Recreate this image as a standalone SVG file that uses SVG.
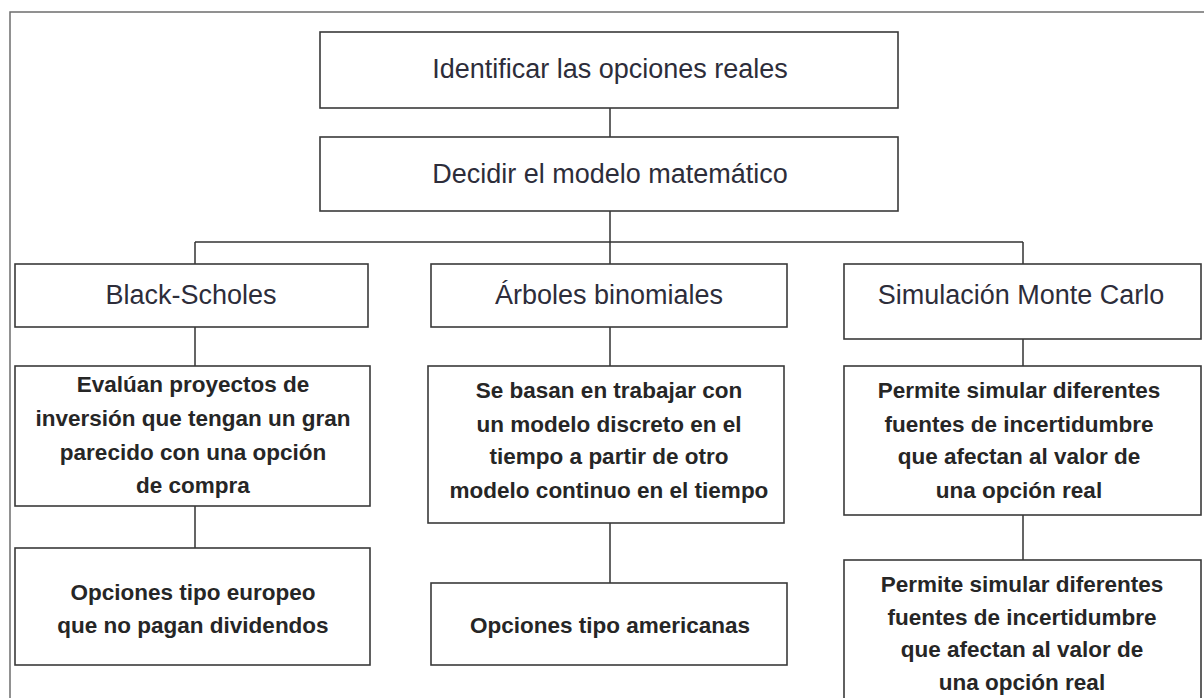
<svg xmlns="http://www.w3.org/2000/svg" width="1204" height="698" viewBox="0 0 1204 698">
<style>
.box{fill:#fff;stroke:#3a3a3a;stroke-width:1.6}
.frame{fill:none;stroke:#6e6e6e;stroke-width:1.5}
.con{stroke:#333;stroke-width:1.5;fill:none}
.h{font-family:"Liberation Sans",Arial,sans-serif;font-size:27px;fill:#2d2d3a;text-anchor:middle}
.b{font-family:"Liberation Sans",Arial,sans-serif;font-size:22.5px;font-weight:bold;fill:#262626;text-anchor:middle}
</style>
<rect width="1204" height="698" fill="#fff"/>
<rect class="frame" x="10" y="12" width="1210" height="700"/>
<g id="connectors">
<path class="con" d="M610 108V137M610 211V242M195 242H1023M195 242V264M610 242V264M1023 242V264M195 327V366M195 506V548M610 327V366M610 523V583M1023 339V366M1023 515V560"/>
</g>
<g id="n1"><rect class="box" x="320" y="32" width="578" height="76"/><text class="h" x="610" y="78">Identificar las opciones reales</text></g>
<g id="n2"><rect class="box" x="320" y="137" width="578" height="74"/><text class="h" x="610" y="183">Decidir el modelo matemático</text></g>
<g id="n3"><rect class="box" x="15" y="264" width="353" height="63"/><text class="h" x="191" y="304">Black-Scholes</text></g>
<g id="n4"><rect class="box" x="431" y="264" width="356" height="63"/><text class="h" x="609" y="304">Árboles binomiales</text></g>
<g id="n5"><rect class="box" x="844" y="264" width="357" height="75"/><text class="h" x="1021" y="304">Simulación Monte Carlo</text></g>
<g id="n6"><rect class="box" x="15" y="366" width="355" height="140"/><text class="b" x="193" y="392">Evalúan proyectos de</text><text class="b" x="193" y="426">inversión que tengan un gran</text><text class="b" x="193" y="460">parecido con una opción</text><text class="b" x="193" y="493">de compra</text></g>
<g id="n7"><rect class="box" x="428" y="366" width="356" height="157"/><text class="b" x="609" y="398">Se basan en trabajar con</text><text class="b" x="609" y="432">un modelo discreto en el</text><text class="b" x="609" y="464">tiempo a partir de otro</text><text class="b" x="609" y="498">modelo continuo en el tiempo</text></g>
<g id="n8"><rect class="box" x="844" y="366" width="357" height="149"/><text class="b" x="1019" y="398">Permite simular diferentes</text><text class="b" x="1019" y="432">fuentes de incertidumbre</text><text class="b" x="1019" y="464">que afectan al valor de</text><text class="b" x="1019" y="498">una opción real</text></g>
<g id="n9"><rect class="box" x="15" y="548" width="355" height="117"/><text class="b" x="193" y="600">Opciones tipo europeo</text><text class="b" x="193" y="633">que no pagan dividendos</text></g>
<g id="n10"><rect class="box" x="431" y="583" width="356" height="82"/><text class="b" x="610" y="633">Opciones tipo americanas</text></g>
<g id="n11"><rect class="box" x="844" y="560" width="357" height="160"/><text class="b" x="1022" y="592">Permite simular diferentes</text><text class="b" x="1022" y="625">fuentes de incertidumbre</text><text class="b" x="1022" y="657">que afectan al valor de</text><text class="b" x="1022" y="690">una opción real</text></g>
</svg>
